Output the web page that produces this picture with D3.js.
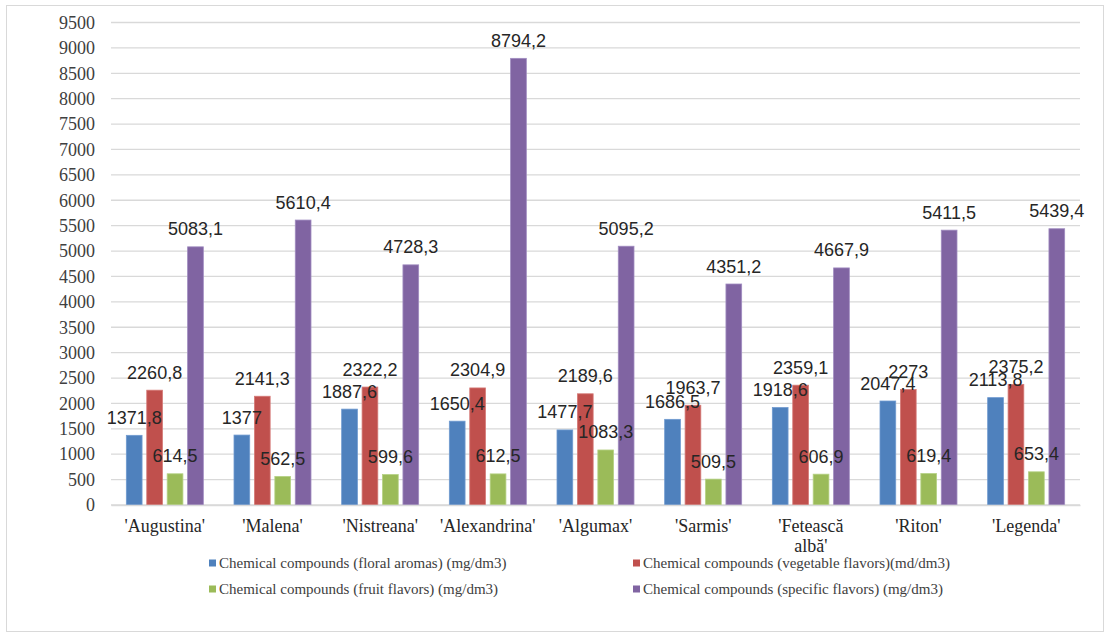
<!DOCTYPE html>
<html>
<head>
<meta charset="utf-8">
<script src="https://cdn.jsdelivr.net/npm/d3@7"></script>
<style>
  html, body { margin: 0; padding: 0; background: #fff; }
  svg { display: block; }
  svg text.serif { font-family: "Liberation Serif", "Times New Roman", "DejaVu Serif", "Noto Serif", serif; }
  svg text.sans { font-family: "Liberation Sans", Arial, Helvetica, sans-serif; }
</style>
</head>
<body>
<svg id="chart" width="1105" height="634"></svg>
<script>
const categories = ["'Augustina'", "'Malena'", "'Nistreana'", "'Alexandrina'", "'Algumax'", "'Sarmis'", "'Fetească albă'", "'Riton'", "'Legenda'"];
const seriesNames = [
  "Chemical compounds (floral aromas) (mg/dm3)",
  "Chemical compounds (vegetable flavors)(md/dm3)",
  "Chemical compounds (fruit flavors) (mg/dm3)",
  "Chemical compounds (specific flavors) (mg/dm3)"
];
const floral   = [1371.8, 1377, 1887.6, 1650.4, 1477.7, 1686.5, 1918.6, 2047.4, 2113.8];
const vegetable= [2260.8, 2141.3, 2322.2, 2304.9, 2189.6, 1963.7, 2359.1, 2273, 2375.2];
const fruit    = [614.5, 562.5, 599.6, 612.5, 1083.3, 509.5, 606.9, 619.4, 653.4];
const specific = [5083.1, 5610.4, 4728.3, 8794.2, 5095.2, 4351.2, 4667.9, 5411.5, 5439.4];
const yTicks = d3.range(0, 9501, 500);
const colors = ["#4F81BD", "#C0504D", "#9BBB59", "#8064A2"];
const strokes = ["#6f9ad0", "#d57a77", "#b5d184", "#a08cc0"];

const seriesValues = [floral, vegetable, fruit, specific];

const svg = d3.select("#chart");
// outer frame
svg.append("rect").attr("x", 6.5).attr("y", 5.5).attr("width", 1097).attr("height", 626)
  .attr("fill", "#fff").attr("stroke", "#d9d9d9").attr("stroke-width", 1);

const plotLeft = 111, plotRight = 1080, plotTop = 22.5, plotBottom = 505;
const x0 = d3.scaleBand().domain(categories).range([plotLeft, plotRight]).padding(0);
const x1 = d3.scaleBand().domain(d3.range(4)).range([-38.5, 38.5]).paddingInner(0.23).paddingOuter(0);
const y = d3.scaleLinear().domain([0, 9500]).range([plotBottom, plotTop]);

// gridlines
svg.append("g").selectAll("line").data(yTicks).join("line")
  .attr("x1", plotLeft).attr("x2", plotRight)
  .attr("y1", d => y(d)).attr("y2", d => y(d))
  .attr("stroke", "#d9d9d9").attr("stroke-width", 1.3);

// y axis labels
const yAxis = d3.axisLeft(y).tickValues(yTicks).tickSize(0).tickPadding(16).tickFormat(d3.format("d"));
const yg = svg.append("g").attr("transform", `translate(${plotLeft},0)`).call(yAxis)
  .attr("font-family", null).attr("font-size", null);
yg.select(".domain").remove();
yg.selectAll("text").attr("class", "serif")
  .style("font-size", "18px").attr("fill", "#404040");

// bars
const fmt = v => String(v).replace(".", ",");
const groups = svg.append("g").selectAll("g").data(categories).join("g")
  .attr("transform", c => `translate(${x0(c) + x0.bandwidth() / 2},0)`);

groups.each(function(c, i) {
  const g = d3.select(this);
  seriesValues.forEach((vals, s) => {
    const v = vals[i];
    g.append("rect")
      .attr("x", x1(s)).attr("width", x1.bandwidth())
      .attr("y", y(v)).attr("height", y(0) - y(v))
      .attr("fill", colors[s]).attr("stroke", strokes[s]).attr("stroke-width", 0.8);
  });
});
groups.each(function(c, i) {
  const g = d3.select(this);
  seriesValues.forEach((vals, s) => {
    const v = vals[i];
    g.append("text")
      .attr("class", "sans")
      .attr("x", x1(s) + x1.bandwidth() / 2)
      .attr("y", y(v) - 11.5)
      .attr("text-anchor", "middle")
      .style("font-size", "18px").attr("fill", "#262626")
      .text(fmt(v));
  });
});

// category labels
const xAxis = d3.axisBottom(x0).tickSize(0).tickPadding(0);
const xg = svg.append("g").attr("transform", `translate(0,${plotBottom})`).call(xAxis)
  .attr("font-family", null).attr("font-size", null);
xg.select(".domain").attr("stroke", "#d9d9d9").attr("stroke-width", 1.3);
xg.selectAll("text")
  .attr("class", "serif")
  .style("font-size", "18px").attr("fill", "#262626")
  .attr("dy", null).attr("y", 27)
  .each(function(d) {
    const t = d3.select(this);
    t.text(null);
    const words = d.split(" ");
    let line = [], lines = [];
    const tmp = t.append("tspan");
    words.forEach(w => {
      line.push(w);
      tmp.text(line.join(" "));
      if (tmp.node().getComputedTextLength() > x0.bandwidth() - 6 && line.length > 1) {
        line.pop(); lines.push(line.join(" ")); line = [w];
      }
    });
    lines.push(line.join(" "));
    tmp.remove();
    lines.forEach((l, k) => {
      t.append("tspan").attr("x", 0).attr("dy", k === 0 ? 0 : 20).text(l);
    });
  });

// legend
const legendPos = [[209, 563], [633, 563], [209, 589], [633, 589]];
const lg = svg.append("g").selectAll("g").data(seriesNames).join("g")
  .attr("transform", (d, i) => `translate(${legendPos[i][0]},${legendPos[i][1]})`);
lg.append("rect").attr("x", 0).attr("y", -3.5).attr("width", 7).attr("height", 7)
  .attr("fill", (d, i) => colors[i]);
lg.append("text").attr("class", "serif").attr("x", 10).attr("y", 0).attr("dy", "0.35em")
  .style("font-size", "15px").attr("fill", "#404040")
  .text(d => d);
</script>
</body>
</html>
